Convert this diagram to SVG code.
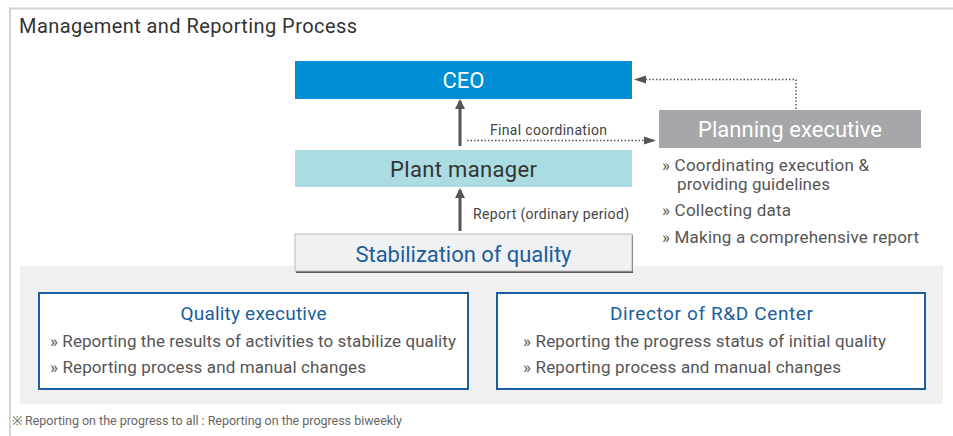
<svg xmlns="http://www.w3.org/2000/svg" width="953" height="436" viewBox="0 0 953 436">
<style>
text{font-family:"Roboto","Liberation Sans",sans-serif}
.t{fill:#333;font-size:20px}
.lbl{fill:#444;font-size:14px}
.bul{fill:#555;font-size:17px}
.bul2{fill:#555;font-size:17px}
.head{fill:#1a5e9c;font-size:19px}
.card{fill:#fff;stroke:#1a5e9c;stroke-width:2}
.dot{fill:none;stroke:#555;stroke-width:1.5;stroke-dasharray:1.5 2}
</style>
<defs>
<marker id="ah" markerWidth="10" markerHeight="10" refX="8" refY="5" orient="auto" markerUnits="userSpaceOnUse">
<path d="M0,0 L10,5 L0,10 Z" fill="#555"/>
</marker>
<marker id="ahs" markerWidth="12" markerHeight="10" refX="10" refY="5" orient="auto" markerUnits="userSpaceOnUse">
<path d="M0,1 L12,5 L0,9 Z" fill="#555"/>
</marker>
</defs>
<rect width="953" height="436" fill="#fff"/>
<path d="M10,436 V8.5 H953" fill="none" stroke="#d3d3d3" stroke-width="2"/>
<text class="t" x="19" y="33" textLength="338">Management and Reporting Process</text>
<rect x="20" y="266" width="923" height="138" fill="#eff0f2"/>

<g id="ceo">
<rect x="295" y="61" width="337" height="38" fill="#008fd5"/>
<text x="463.5" y="88" text-anchor="middle" fill="#fff" font-size="22">CEO</text>
</g>
<g id="plant-manager">
<rect x="295" y="150" width="337" height="37" fill="#aadce2"/>
<text x="463.5" y="177" text-anchor="middle" fill="#333" font-size="22" textLength="147">Plant manager</text>
</g>
<g id="stabilization">
<rect x="296" y="235" width="337" height="38" fill="#5a5a5a"/>
<rect x="295" y="234" width="337" height="37" fill="#f0f1f3" stroke="#bbb" stroke-width="1"/>
<text x="463.5" y="262" text-anchor="middle" fill="#1a5e9c" font-size="22" textLength="216">Stabilization of quality</text>
</g>
<g id="planning-executive">
<rect x="659" y="110" width="262" height="38" fill="#a6a7aa"/>
<text x="790" y="137" text-anchor="middle" fill="#fff" font-size="22" textLength="184">Planning executive</text>
<text class="bul" x="662" y="171" textLength="207">» Coordinating execution &amp;</text>
<text class="bul" x="677" y="190" textLength="153">providing guidelines</text>
<text class="bul" x="662" y="216" textLength="129">» Collecting data</text>
<text class="bul" x="662" y="243" textLength="257">» Making a comprehensive report</text>
</g>
<g id="quality-executive">
<rect class="card" x="39" y="293" width="429" height="96"/>
<text class="head" x="253.5" y="320" text-anchor="middle" textLength="146">Quality executive</text>
<text class="bul2" x="50" y="347" textLength="406">» Reporting the results of activities to stabilize quality</text>
<text class="bul2" x="50" y="373" textLength="316">» Reporting process and manual changes</text>
</g>
<g id="director-rd">
<rect class="card" x="497" y="293" width="428" height="96"/>
<text class="head" x="711.5" y="320" text-anchor="middle" textLength="203">Director of R&amp;D Center</text>
<text class="bul2" x="523" y="347" textLength="363">» Reporting the progress status of initial quality</text>
<text class="bul2" x="523" y="373" textLength="318">» Reporting process and manual changes</text>
</g>

<g id="connectors">
<line x1="460" y1="146" x2="460" y2="101" stroke="#555" stroke-width="3" marker-end="url(#ah)"/>
<line x1="460" y1="231" x2="460" y2="190" stroke="#555" stroke-width="3" marker-end="url(#ah)"/>
<path class="dot" d="M467,140.5 H654" marker-end="url(#ahs)"/>
<path class="dot" d="M796,109 V79.5 H636" marker-end="url(#ahs)"/>
<text class="lbl" x="490" y="135" textLength="117">Final coordination</text>
<text class="lbl" x="473" y="219" textLength="156">Report (ordinary period)</text>
</g>
<text x="12" y="425" fill="#666" font-size="12.5" textLength="390">※ Reporting on the progress to all : Reporting on the progress biweekly</text>
</svg>
